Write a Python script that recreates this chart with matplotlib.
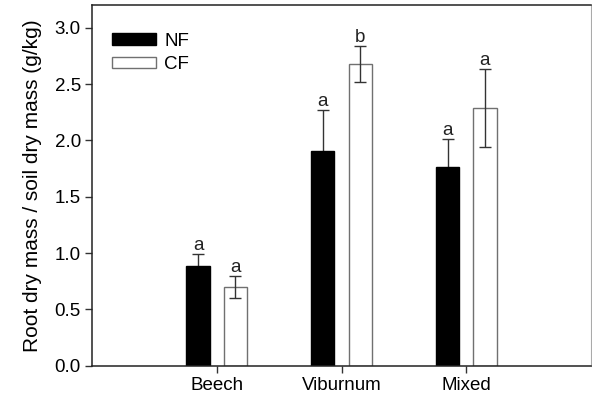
import matplotlib
matplotlib.use("Agg")
import matplotlib.pyplot as plt
import numpy as np

plt.rcParams['font.family'] = ['Liberation Sans', 'DejaVu Sans']
plt.rcParams['font.size'] = 13.5

sites = ["Beech", "Viburnum", "Mixed"]
nf_mean = [0.885, 1.91, 1.767]
nf_err = [0.11, 0.36, 0.245]
cf_mean = [0.70, 2.68, 2.285]
cf_err = [0.095, 0.157, 0.345]
nf_letters = ["a", "a", "a"]
cf_letters = ["a", "b", "a"]

x = np.arange(1, len(sites) + 1)
w = 0.185
off = 0.15

fig = plt.figure(figsize=(5.92, 3.99), dpi=100)
ax = fig.add_axes([92 / 592, 1 - 365.7 / 399, 499 / 592, 360.4 / 399])

ax.bar(x - off, nf_mean, w, color="black", edgecolor="black", label="NF", zorder=2)
ax.bar(x + off, cf_mean, w, color="white", edgecolor="#707070", linewidth=1, label="CF", zorder=2)
# NF error bars sit behind the black bars, so only the upper half shows
ax.errorbar(x - off, nf_mean, yerr=nf_err, fmt="none", ecolor="#333333", elinewidth=1,
            capsize=4.5, capthick=1, zorder=1)
ax.errorbar(x + off, cf_mean, yerr=cf_err, fmt="none", ecolor="#333333", elinewidth=1,
            capsize=4.5, capthick=1, zorder=3)

for xi, m, e, t in zip(x - off, nf_mean, nf_err, nf_letters):
    ax.annotate(t, (xi, m + e), xytext=(0, 0), textcoords="offset points",
                ha="center", va="bottom", color="#222222")
for xi, m, e, t in zip(x + off, cf_mean, cf_err, cf_letters):
    ax.annotate(t, (xi, m + e), xytext=(0, 0), textcoords="offset points",
                ha="center", va="bottom", color="#222222")

ax.set_xlim(0, 4)
ax.set_ylim(0, 3.2)
ax.set_xticks(x)
ax.set_xticklabels(sites)
ax.set_yticks(np.arange(0, 3.01, 0.5))
ax.set_yticklabels([f"{v:.1f}" for v in np.arange(0, 3.01, 0.5)])
ax.tick_params(direction="out", length=5, width=1, color="#333333", pad=3)
ax.set_ylabel("Root dry mass / soil dry mass (g/kg)", fontsize=15, labelpad=9)

for s in ["left", "bottom", "top"]:
    ax.spines[s].set_color("#222222")
    ax.spines[s].set_linewidth(1.1)
ax.spines["right"].set_color("#aaaaaa")

ax.legend(loc="upper left", frameon=False, bbox_to_anchor=(0.017, 0.955),
          handlelength=2.35, handleheight=0.55, handletextpad=0.45, labelspacing=0.35,
          borderaxespad=0.2)

fig.savefig("out.png", dpi=100)
